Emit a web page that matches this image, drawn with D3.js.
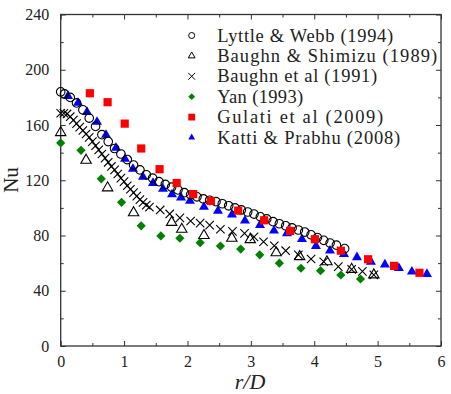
<!DOCTYPE html>
<html>
<head>
<meta charset="utf-8">
<script src="https://cdn.jsdelivr.net/npm/d3@7"></script>
<style>
  body { margin: 0; background: #fff; }
</style>
</head>
<body>
<svg id="chart" width="451" height="394"></svg>
<script>
// Lyttle & Webb (1994)
const lyttleR  = [0, 0.06, 0.15, 0.25, 0.35, 0.45, 0.55, 0.65, 0.75, 0.85, 0.95, 1.05, 1.15, 1.25, 1.35, 1.45, 1.55, 1.65, 1.75, 1.85, 1.95, 2.05, 2.15, 2.25, 2.35, 2.45, 2.55, 2.65, 2.75, 2.85, 2.95, 3.05, 3.15, 3.25, 3.35, 3.45, 3.55, 3.65, 3.75, 3.85, 3.95, 4.05, 4.15, 4.25, 4.35, 4.48];
const lyttleNu = [184, 182.5, 180, 176, 171, 165, 159, 153, 148, 143, 139, 135, 131, 127.5, 124, 121.5, 119, 117, 115, 113, 111, 109.5, 108, 106.5, 105.5, 104.5, 103, 101.5, 100, 98.5, 97, 95.5, 93.5, 92, 90, 88.5, 87, 85.5, 84, 82.5, 80.5, 78.5, 76.5, 74.5, 73, 70.5];

// Baughn & Shimizu (1989)
const shimizuR  = [0, 0.40, 0.74, 1.15, 1.75, 1.91, 2.26, 2.70, 2.99, 3.40, 3.77, 4.20, 4.59, 4.94];
const shimizuNu = [154.5, 134.5, 114.5, 96.5, 89.5, 84.5, 80, 78, 77, 67.5, 64.7, 61, 55.5, 51.5];

// Baughn et al (1991)
const baughnR  = [0, 0.05, 0.1, 0.15, 0.2, 0.25, 0.3, 0.35, 0.4, 0.45, 0.5, 0.55, 0.6, 0.65, 0.7, 0.75, 0.8, 0.85, 0.9, 0.95, 1.0, 1.05, 1.1, 1.15, 1.2, 1.25, 1.3, 1.35, 1.4, 1.57, 1.72, 1.88, 2.05, 2.2, 2.35, 2.52, 2.71, 2.9, 3.05, 3.2, 3.37, 3.55, 3.75, 3.95, 4.15, 4.38, 4.59, 4.76, 4.94];
const baughnNu = [168.5, 168.5, 168, 166, 163.5, 161, 158.5, 156, 153.5, 151, 148, 145, 142, 139, 136, 133, 130, 127.5, 124.5, 121.5, 119, 116, 113.5, 111, 108.5, 106, 104, 102, 100.5, 98.5, 95.6, 92.8, 90.5, 89, 87.5, 84.5, 83, 81.5, 79, 75.5, 72.6, 69, 66, 63, 61, 57.5, 55.5, 54, 51.5];

// Yan (1993)
const yanR  = [0, 0.32, 0.64, 0.96, 1.27, 1.58, 1.88, 2.20, 2.52, 2.84, 3.14, 3.45, 3.79, 4.10, 4.42, 4.73];
const yanNu = [147, 141.7, 121, 104, 87, 79.7, 78, 74.8, 72.4, 70.2, 66, 60, 56.3, 54.5, 51.4, 48.5];

// Gulati et al (2009)
const gulatiR  = [0.46, 0.74, 1.01, 1.27, 1.56, 1.83, 2.09, 2.37, 2.80, 3.21, 3.62, 4.01, 4.42, 4.85, 5.26, 5.66];
const gulatiNu = [183, 176.5, 161, 143, 128, 118, 110, 105, 98, 91, 83.3, 77.3, 69, 62.8, 58, 53];

// Katti & Prabhu (2008)
const kattiR  = [0.115, 0.273, 0.415, 0.573, 0.715, 0.872, 1.014, 1.14, 1.298, 1.456, 1.614, 1.756, 1.898, 2.039, 2.26, 2.481, 2.702, 2.907, 3.144, 3.365, 3.57, 3.806, 4.027, 4.248, 4.469, 4.674, 4.895, 5.115, 5.336, 5.541, 5.778];
const kattiNu = [181, 176, 169.4, 162.2, 152.8, 143.4, 135.4, 128.2, 122.4, 118, 113.7, 109.7, 107.5, 105, 100.7, 97.8, 95.2, 90.7, 87.6, 83.5, 81.6, 77.3, 72.4, 69, 66.6, 64.2, 61, 59, 56.3, 53.8, 52.1];

const xTicks = [0, 1, 2, 3, 4, 5, 6];
const yTicks = [0, 40, 80, 120, 160, 200, 240];
const xMinor = [0.5, 1.5, 2.5, 3.5, 4.5, 5.5];
const yMinor = [20, 60, 100, 140, 180, 220];

const legendNames = ["Lyttle & Webb (1994)", "Baughn & Shimizu (1989)", "Baughn et al (1991)",
                     "Yan (1993)", "Gulati et al (2009)", "Katti & Prabhu (2008)"];
// rendered widths of the legend entries (px), to mimic the wider TeX font
const legendWidths = [176, 220, 160, 86, 166, 183];

const fontName = '"Liberation Serif"';
const svg = d3.select("#chart");
const mLeft = 60.7, mRight = 441, mTop = 14.5, mBottom = 346;

const x = d3.scaleLinear().domain([0, 6]).range([mLeft, mRight]);
const y = d3.scaleLinear().domain([0, 240]).range([mBottom, mTop]);

// marker shapes, s = half size
function shapePath(kind, s) {
    if (kind === "circle")
        return d3.symbol(d3.symbolCircle, Math.PI * s * s)();
    if (kind === "triangle") {
        const h = s * 1.732;
        return `M0,${-h * 2 / 3}L${s},${h / 3}L${-s},${h / 3}Z`;
    }
    if (kind === "cross")
        return `M${-s},${-s}L${s},${s}M${-s},${s}L${s},${-s}`;
    if (kind === "diamond")
        return `M0,${-s}L${s},0L0,${s}L${-s},0Z`;
    if (kind === "square")
        return `M${-s},${-s}H${s}V${s}H${-s}Z`;
}

const series = [
    { key: "katti", r: kattiR, nu: kattiNu, kind: "triangle", s: 5, fill: "#0000ff", stroke: "none", legend: 5 },
    { key: "lyttle", r: lyttleR, nu: lyttleNu, kind: "circle", s: 4.3, fill: "none", stroke: "#000", legend: 0 },
    { key: "shimizu", r: shimizuR, nu: shimizuNu, kind: "triangle", s: 5.2, fill: "none", stroke: "#000", legend: 1 },
    { key: "baughn", r: baughnR, nu: baughnNu, kind: "cross", s: 4.2, fill: "none", stroke: "#000", legend: 2 },
    { key: "yan", r: yanR, nu: yanNu, kind: "diamond", s: 4.6, fill: "#008000", stroke: "none", legend: 3 },
    { key: "gulati", r: gulatiR, nu: gulatiNu, kind: "square", s: 4.1, fill: "#ff0000", stroke: "none", legend: 4 }
];

// axes, ticks inside on all four sides
function tickAxis(axis, scale, vals, size, tx, ty, labels, pad) {
    const a = axis(scale).tickValues(vals).tickSize(size).tickPadding(pad)
        .tickFormat(labels ? d3.format("d") : "");
    const g = svg.append("g").attr("transform", `translate(${tx},${ty})`).call(a);
    g.attr("font-family", null).attr("font-size", null);
    g.select(".domain").remove();
    g.selectAll("line").attr("stroke", "#333").attr("stroke-width", 1);
    g.selectAll("text").attr("fill", "#222")
        .style("font-family", fontName).style("font-size", "16px");
    return g;
}

tickAxis(d3.axisBottom, x, xTicks, -5, 0, mBottom, true, 10);
tickAxis(d3.axisBottom, x, xMinor, -3, 0, mBottom, false, 0);
tickAxis(d3.axisTop, x, xTicks, -5, 0, mTop, false, 0);
tickAxis(d3.axisTop, x, xMinor, -3, 0, mTop, false, 0);
tickAxis(d3.axisLeft, y, yTicks, -5, mLeft, 0, true, 11.5);
tickAxis(d3.axisLeft, y, yMinor, -3, mLeft, 0, false, 0);
tickAxis(d3.axisRight, y, yTicks, -5, mRight, 0, false, 0);
tickAxis(d3.axisRight, y, yMinor, -3, mRight, 0, false, 0);

svg.append("rect")
    .attr("x", mLeft).attr("y", mTop)
    .attr("width", mRight - mLeft).attr("height", mBottom - mTop)
    .attr("fill", "none").attr("stroke", "#333").attr("stroke-width", 1.3);

// data markers
series.forEach(sr => {
    const pts = sr.r.map((r, i) => [r, sr.nu[i]]);
    svg.append("g").attr("class", sr.key)
        .selectAll("path").data(pts).join("path")
        .attr("transform", d => `translate(${x(d[0])},${y(d[1])})`)
        .attr("d", shapePath(sr.kind, sr.s))
        .attr("fill", sr.fill)
        .attr("stroke", sr.stroke)
        .attr("stroke-width", 1.1);
});

// legend
const legendSeries = series.slice().sort((a, b) => a.legend - b.legend);
const lg = svg.append("g").attr("transform", "translate(191.7,35.5)");
legendSeries.forEach((sr, i) => {
    const row = lg.append("g").attr("transform", `translate(0,${i * 20.4})`);
    row.append("path")
        .attr("d", shapePath(sr.kind, sr.kind === "circle" ? 3 : 3.4))
        .attr("fill", sr.fill).attr("stroke", sr.stroke).attr("stroke-width", 1);
    row.append("text")
        .attr("x", 25.5).attr("y", 6)
        .attr("fill", "#222")
        .attr("textLength", legendWidths[i])
        .style("font-family", fontName).style("font-size", "18.5px")
        .text(legendNames[i]);
});

// axis titles
svg.append("text")
    .attr("x", 250).attr("y", 389)
    .attr("text-anchor", "middle").attr("fill", "#222")
    .style("font-family", fontName).style("font-size", "22px").style("font-style", "italic")
    .text("r/D");

svg.append("text")
    .attr("transform", "translate(18,180) rotate(-90)")
    .attr("text-anchor", "middle").attr("fill", "#222")
    .style("font-family", fontName).style("font-size", "21px")
    .text("Nu");
</script>
</body>
</html>
